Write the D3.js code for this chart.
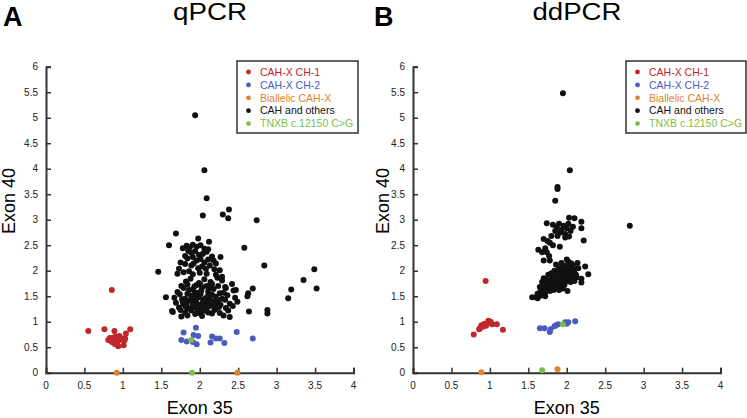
<!DOCTYPE html>
<html>
<head>
<meta charset="utf-8">
<script src="https://cdn.jsdelivr.net/npm/d3@7/dist/d3.min.js"></script>
<style>
  body { margin: 0; background: #fff; }
  svg { font-family: "Liberation Sans", Arial, sans-serif; }
  .tick-label { font-size: 10px; fill: #222; }
  .legend text { font-size: 10.5px; }
</style>
</head>
<body>
<div id="chart"></div>
<script>
// x tick values / y tick values
var xTicks = [0, 0.5, 1, 1.5, 2, 2.5, 3, 3.5, 4];
var yTicks = [0, 0.5, 1, 1.5, 2, 2.5, 3, 3.5, 4, 4.5, 5, 5.5, 6];

var seriesNames = ['CAH-X CH-1', 'CAH-X CH-2', 'Biallelic CAH-X', 'CAH and others', 'TNXB c.12150 C>G'];
var seriesColors = ['#bf272d', '#4b5cbf', '#e0832d', '#111111', '#7dbf45'];

// ---- qPCR (panel A), [exon35, exon40]
var qpcrCh1 = [[0.856,1.62],[0.55,0.82],[0.76,0.85],[0.89,0.82],[1.095,0.85],[1.04,0.77],[0.956,0.72],
  [1.03,0.67],[1.02,0.63],[0.81,0.64],[0.85,0.61],[0.9,0.66],[0.87,0.59],[0.92,0.58],[0.94,0.52],
  [1.01,0.54],[0.83,0.68],[0.91,0.71],[0.96,0.64],[0.88,0.69],[0.93,0.62],[0.86,0.65],[0.97,0.68],[0.9,0.56]];
var qpcrCh2 = [[1.95,0.88],[1.79,0.79],[2.48,0.80],[1.92,0.74],[1.98,0.72],[2.16,0.71],[2.21,0.67],
  [2.26,0.67],[2.69,0.67],[1.76,0.64],[1.83,0.61],[1.96,0.56],[2.14,0.59],[2.32,0.58],[1.91,0.6]];
var qpcrBiallelic = [[0.92,0],[2.49,0]];
var qpcrTnxb = [[1.89,0.64],[1.9,0]];
var qpcrOthers = [
  [1.94,5.05],[2.06,3.97],[2.09,3.42],[2.04,3.08],[2.30,3.10],[2.38,3.20],[2.37,3.03],[2.74,2.99],
  [1.69,2.73],[1.60,2.50],[1.98,2.63],[2.12,2.57],[2.58,2.45],[1.46,1.98],[1.56,1.48],[2.84,2.10],
  [3.15,1.46],[3.19,1.63],[3.35,1.82],[3.49,2.03],[3.52,1.65],[2.88,1.23],[2.88,1.16],[2.64,1.20],
  [2.63,1.56],[2.62,1.50],[2.69,1.65],[2.39,1.09],[2.47,1.62],[2.27,2.27],[1.76,1.10],[1.64,1.21],
  [1.78,2.44],[1.83,2.49],[1.87,2.46],[1.91,2.51],[1.96,2.47],[2.01,2.5],[2.06,2.43],[1.85,2.39],
  [1.89,2.35],[1.94,2.38],[1.99,2.31],[2.04,2.33],[2.09,2.37],[2.11,2.42],[1.81,2.29],[1.84,2.24],
  [1.91,2.27],[1.96,2.2],[2.01,2.23],[2.06,2.16],[2.11,2.22],[2.16,2.28],[1.75,2.16],[1.81,2.13],
  [1.89,2.1],[1.92,2.14],[1.98,2.05],[2.03,2.08],[2.08,2.04],[2.13,2.1],[2.19,2.03],[1.79,1.97],
  [1.86,1.99],[1.91,1.93],[2.0,1.96],[2.09,1.94],[2.21,1.92],[2.26,2.01],[2.21,2.14],[2.18,2.2],
  [1.73,2.04],[1.71,1.94],[2.23,1.86],[2.29,1.88],
  [1.82,1.79],[1.88,1.84],[1.99,1.76],[2.06,1.83],[2.14,1.78],[2.29,1.81],[1.96,1.72],[1.76,1.7],
  [1.84,1.73],[1.93,1.69],[2.01,1.73],[2.09,1.7],[2.16,1.74],[2.24,1.7],[2.33,1.68],[2.42,1.74],
  [1.71,1.58],[1.79,1.66],[1.84,1.55],[1.91,1.63],[1.97,1.57],[2.03,1.67],[2.11,1.59],[2.18,1.64],
  [2.26,1.56],[2.34,1.66],[2.44,1.61],
  [1.67,1.47],[1.74,1.54],[1.81,1.45],[1.89,1.51],[1.94,1.47],[2.01,1.55],[2.07,1.46],[2.16,1.53],
  [2.21,1.49],[2.29,1.45],[2.36,1.52],[2.46,1.47],
  [1.69,1.37],[1.77,1.44],[1.83,1.35],[1.92,1.41],[1.96,1.36],[2.05,1.43],[2.09,1.35],[2.19,1.4],
  [2.23,1.36],[2.33,1.43],[2.39,1.35],[2.49,1.39],
  [1.73,1.28],[1.79,1.34],[1.86,1.26],[1.93,1.29],[2.01,1.33],[2.06,1.27],[2.13,1.31],[2.21,1.26],
  [2.27,1.33],[2.34,1.27],[2.43,1.31],
  [1.65,1.19],[1.75,1.23],[1.81,1.18],[1.89,1.22],[1.98,1.17],[2.04,1.21],[2.11,1.18],[2.19,1.23],
  [2.26,1.17],[2.37,1.22],
  [1.84,1.12],[1.94,1.15],[2.03,1.11],[2.16,1.16],[2.31,1.12],
  [1.87,1.42],[1.91,1.33],[1.99,1.48],[2.04,1.38],[2.13,1.44],[2.17,1.33],[1.97,1.24],[2.09,1.22],
  [1.94,1.57],[2.11,1.52],[2.24,1.42],[2.31,1.57],[1.86,1.62],[2.02,1.61],[2.14,1.68],
  [1.78,1.38],[1.82,1.29],[2.07,1.29],[2.25,1.29],[2.15,1.37],[1.95,1.4],[2.0,1.26],[1.9,1.47]];

// ---- ddPCR (panel B)
var ddpcrCh1 = [[0.945,1.80],[0.79,0.75],[1.17,0.84],[0.87,0.87],[0.89,0.93],[0.93,0.96],[0.98,1.02],
  [1.0,0.98],[1.03,0.95],[1.09,0.95],[0.95,0.92],[0.91,0.90],[0.86,0.85],[0.97,0.97],[1.01,1.0]];
var ddpcrCh2 = [[1.65,0.87],[1.71,0.87],[1.78,0.80],[1.79,0.85],[1.86,0.93],[1.89,0.95],[1.98,0.99],
  [2.02,0.99],[2.0,0.96],[2.11,1.01],[1.84,0.91]];
var ddpcrBiallelic = [[0.89,0.01],[1.88,0.07]];
var ddpcrTnxb = [[1.95,0.95],[1.68,0.05]];
var ddpcrOthers = [
  [1.95,5.48],[2.04,3.97],[1.88,3.64],[1.88,3.60],[1.85,3.37],[2.82,2.88],[2.1,3.03],[2.03,3.04],
  [2.19,2.96],[2.19,2.83],[2.22,2.59],[1.74,2.93],
  [1.82,2.9],[1.87,2.85],[1.9,2.92],[1.93,2.8],[1.96,2.88],[2.0,2.83],[2.02,2.92],[2.05,2.78],
  [1.92,2.75],[1.98,2.72],[1.85,2.78],[2.08,2.86],[1.88,2.68],[1.8,2.68],[1.7,2.62],[1.75,2.58],
  [1.78,2.55],[1.82,2.5],[1.91,2.47],[1.98,2.65],[2.03,2.67],[1.63,2.41],[1.72,2.44],[1.77,2.29],
  [1.68,2.36],[1.74,2.36],[1.7,2.2],[1.78,2.2],
  [1.6,1.48],[1.62,1.55],[1.64,1.5],[1.66,1.6],[1.65,1.68],[1.68,1.55],[1.7,1.62],[1.7,1.72],
  [1.72,1.58],[1.73,1.68],[1.75,1.63],[1.75,1.75],[1.77,1.7],[1.78,1.6],[1.78,1.8],[1.8,1.66],
  [1.8,1.74],[1.81,1.85],[1.82,1.7],[1.83,1.78],[1.84,1.65],[1.85,1.82],[1.86,1.74],[1.86,1.9],
  [1.88,1.78],[1.88,1.68],[1.89,1.86],[1.9,1.95],[1.9,1.75],[1.92,1.82],[1.92,1.9],[1.93,1.7],
  [1.94,1.98],[1.95,1.86],[1.95,1.78],[1.96,1.93],[1.97,2.02],[1.98,1.84],[1.99,1.9],[2.0,1.97],
  [2.0,2.05],[2.01,1.8],[2.02,1.92],[2.03,2.1],[2.04,1.88],[2.05,2.0],[2.06,2.14],[2.07,1.95],
  [2.08,1.85],[2.1,2.02],[2.12,1.92],[2.13,1.87],[2.15,2.05],[2.19,1.84],[2.19,1.77],[2.24,2.08],
  [2.28,1.93],[2.01,1.6],[1.95,1.65],[1.55,1.48],[1.62,1.46],[1.67,1.52],[1.72,1.5],[1.83,1.62],
  [1.9,1.62],[1.97,1.72],[2.05,1.78],[2.1,1.8],[1.76,1.92],[1.84,2.0],[1.9,2.05],[1.96,2.1],
  [2.02,2.18],[1.86,2.12],[1.8,1.95],[1.74,1.82],[1.68,1.78],[1.7,1.85],[2.08,2.1],[2.14,2.15],
  [1.93,2.15],[2.0,2.22]];

(function (d3) {
  'use strict';
  var width = 747, height = 418;
  var svg = d3.select('#chart').append('svg')
    .attr('width', width).attr('height', height);

  var panels = [
    { letter: 'A', title: 'qPCR', titleW: 74, left: 46, letterX: 3, titleX: 210, ylabX: 15,
      legendX: 237, legendW: 121,
      series: [qpcrOthers, qpcrCh1, qpcrCh2, qpcrBiallelic, qpcrTnxb] },
    { letter: 'B', title: 'ddPCR', titleW: 89, left: 413, letterX: 374, titleX: 577, ylabX: 389,
      legendX: 626, legendW: 120,
      series: [ddpcrOthers, ddpcrCh1, ddpcrCh2, ddpcrBiallelic, ddpcrTnxb] }
  ];
  // draw order -> index into seriesColors
  var colorIdx = [3, 0, 1, 2, 4];

  panels.forEach(function (p) {
    var x = d3.scaleLinear().domain([0, 4]).range([p.left, p.left + 307.5]);
    var y = d3.scaleLinear().domain([0, 6]).range([372.7, 66.7]);
    var g = svg.append('g');

    g.append('text').attr('x', p.letterX).attr('y', 26)
      .style('font-size', '27px').style('font-weight', 'bold').text(p.letter);
    g.append('text').attr('x', p.titleX - p.titleW / 2).attr('y', 19.5)
      .attr('textLength', p.titleW).attr('lengthAdjust', 'spacingAndGlyphs')
      .style('font-size', '23px').text(p.title);

    // x axis (ticks pointing inward)
    var xAxis = g.append('g').attr('transform', 'translate(0,' + y(0) + ')')
      .call(d3.axisTop(x).tickValues(xTicks).tickSize(5).tickFormat(''));
    xAxis.select('.domain').attr('stroke', '#333').attr('stroke-width', 2);
    xAxis.selectAll('.tick line').attr('stroke', '#333').attr('stroke-width', 1.5);
    g.selectAll('.xl').data(xTicks).enter().append('text')
      .attr('class', 'tick-label').attr('text-anchor', 'middle')
      .attr('x', function (d) { return x(d); }).attr('y', 389)
      .text(function (d) { return d; });

    var yAxis = g.append('g').attr('transform', 'translate(' + x(0) + ',0)')
      .call(d3.axisRight(y).tickValues(yTicks).tickSize(5).tickFormat(''));
    yAxis.select('.domain').attr('stroke', '#333').attr('stroke-width', 2);
    yAxis.selectAll('.tick line').attr('stroke', '#333').attr('stroke-width', 1.5);
    g.selectAll('.yl').data(yTicks).enter().append('text')
      .attr('class', 'tick-label').attr('text-anchor', 'end')
      .attr('x', x(0) - 8).attr('y', function (d) { return y(d) + 3.5; })
      .text(function (d) { return d; });

    g.append('text').attr('x', x(2)).attr('y', 414).attr('text-anchor', 'middle')
      .style('font-size', '18px').text('Exon 35');
    g.append('text').attr('transform', 'translate(' + p.ylabX + ',' + 201 + ') rotate(-90)')
      .attr('text-anchor', 'middle').style('font-size', '18px').text('Exon 40');

    // points
    p.series.forEach(function (s, i) {
      g.append('g').selectAll('circle').data(s).enter().append('circle')
        .attr('cx', function (d) { return x(d[0]); })
        .attr('cy', function (d) { return y(d[1]); })
        .attr('r', 3)
        .attr('fill', seriesColors[colorIdx[i]]);
    });

    // legend
    var lg = g.append('g').attr('class', 'legend')
      .attr('transform', 'translate(' + p.legendX + ',61)');
    lg.append('rect').attr('width', p.legendW).attr('height', 72)
      .attr('fill', '#fff').attr('stroke', '#333').attr('stroke-width', 1.5);
    var item = lg.selectAll('.item').data(seriesNames).enter().append('g')
      .attr('transform', function (d, i) { return 'translate(0,' + (11 + i * 12.9) + ')'; });
    item.append('circle').attr('cx', 11.5).attr('cy', 0).attr('r', 2.4)
      .attr('fill', function (d, i) { return seriesColors[i]; });
    item.append('text').attr('x', 23).attr('y', 3.7)
      .attr('fill', function (d, i) { return seriesColors[i]; })
      .text(function (d) { return d; });
  });
})(window.d3);
</script>
</body>
</html>
